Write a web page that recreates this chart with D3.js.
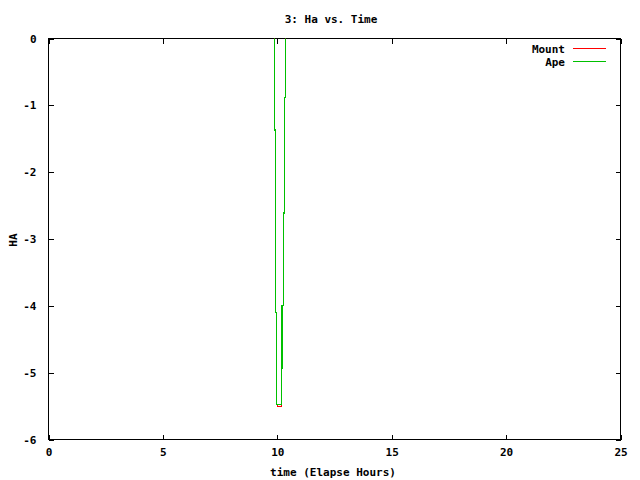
<!DOCTYPE html>
<html><head><meta charset="utf-8">
<script src="https://cdn.jsdelivr.net/npm/d3@7"></script>
<style>body{margin:0;background:#fff}svg{display:block}text{font-family:"DejaVu Sans Mono",monospace;font-weight:bold;font-size:11px;fill:#000}line,rect,path{shape-rendering:crispEdges}</style>
</head><body>
<script>
const title = "3: Ha vs. Time";
const xLabel = "time (Elapse Hours)";
const yLabel = "HA";
const xTicks = [0, 5, 10, 15, 20, 25];
const yTicks = [0, -1, -2, -3, -4, -5, -6];
const seriesNames = ["Mount", "Ape"];
const seriesColors = ["#ff0000", "#00c000"];
const mountTime = [9.89, 9.89, 9.93, 9.93, 9.98, 9.98, 10.0, 10.0, 10.17, 10.17, 10.21, 10.21, 10.26, 10.26, 10.30, 10.30, 10.35, 10.35];
const mountHA   = [0.1, -1.37, -1.37, -4.10, -4.10, -5.48, -5.48, -5.51, -5.51, -4.93, -4.93, -4.00, -4.00, -2.61, -2.61, -0.88, -0.88, 0.1];
const apeTime = [9.89, 9.89, 9.93, 9.93, 9.98, 9.98, 10.17, 10.17, 10.21, 10.21, 10.26, 10.26, 10.30, 10.30, 10.35, 10.35];
const apeHA   = [0.1, -1.37, -1.37, -4.10, -4.10, -5.48, -5.48, -4.93, -4.93, -4.00, -4.00, -2.61, -2.61, -0.88, -0.88, 0.1];

const W = 640, H = 480;
const m = {left: 48.5, right: 620.5, top: 38.5, bottom: 439.5};
const svg = d3.select("body").append("svg").attr("width", W).attr("height", H);
const x = d3.scaleLinear().domain([0, 25]).range([m.left, m.right]);
const y = d3.scaleLinear().domain([-6, 0]).range([m.bottom, m.top]);
const tl = 5;

svg.append("defs").append("clipPath").attr("id", "clip")
  .append("rect").attr("x", m.left).attr("y", m.top).attr("width", m.right - m.left).attr("height", m.bottom - m.top);

const gx = svg.append("g").attr("transform", `translate(0,${m.bottom})`)
  .call(d3.axisBottom(x).tickValues(xTicks).tickSizeInner(-tl).tickSizeOuter(0).tickPadding(9));
const gxt = svg.append("g").attr("transform", `translate(0,${m.top})`)
  .call(d3.axisTop(x).tickValues(xTicks).tickSizeInner(-tl).tickSizeOuter(0).tickFormat(""));
const gy = svg.append("g").attr("transform", `translate(${m.left},0)`)
  .call(d3.axisLeft(y).tickValues(yTicks).tickSizeInner(-tl).tickSizeOuter(0).tickPadding(12).tickFormat(d3.format("d")));
const gyr = svg.append("g").attr("transform", `translate(${m.right},0)`)
  .call(d3.axisRight(y).tickValues(yTicks).tickSizeInner(-tl).tickSizeOuter(0).tickFormat(""));
[gx, gxt, gy, gyr].forEach(g => {
  g.select(".domain").remove();
  g.selectAll("line").attr("stroke", "#000").attr("stroke-width", 1);
  g.selectAll("text").attr("font-family", null).attr("font-size", null).attr("fill", "#000");
});
gy.selectAll("text").text(d => d === 0 ? "0" : "-" + Math.abs(d));

svg.append("rect").attr("x", m.left).attr("y", m.top).attr("width", m.right - m.left).attr("height", m.bottom - m.top)
  .attr("fill", "none").attr("stroke", "#000").attr("stroke-width", 1);

const line = d3.line().x(d => x(d[0])).y(d => y(d[1]));
const series = [
  mountTime.map((t, i) => [t, mountHA[i]]),
  apeTime.map((t, i) => [t, apeHA[i]])
];
const pg = svg.append("g").attr("clip-path", "url(#clip)");
series.forEach((s, i) => {
  pg.append("path").datum(s).attr("d", line).attr("fill", "none")
    .attr("stroke", seriesColors[i]).attr("stroke-width", 1.3);
});

seriesNames.forEach((n, i) => {
  const ly = 48.5 + i * 13;
  svg.append("text").attr("x", 565).attr("y", ly + 1).attr("dy", "0.35em").attr("text-anchor", "end").text(n);
  svg.append("line").attr("x1", 573).attr("x2", 606).attr("y1", ly).attr("y2", ly)
    .attr("stroke", seriesColors[i]).attr("stroke-width", 1);
});

svg.append("text").attr("x", 331).attr("y", 19).attr("dy", "0.35em").attr("text-anchor", "middle").text(title);
svg.append("text").attr("x", 333).attr("y", 472).attr("dy", "0.35em").attr("text-anchor", "middle").text(xLabel);
svg.append("text").attr("transform", "translate(13,240) rotate(-90)").attr("dy", "0.35em").attr("text-anchor", "middle").text(yLabel);
</script>
</body></html>
